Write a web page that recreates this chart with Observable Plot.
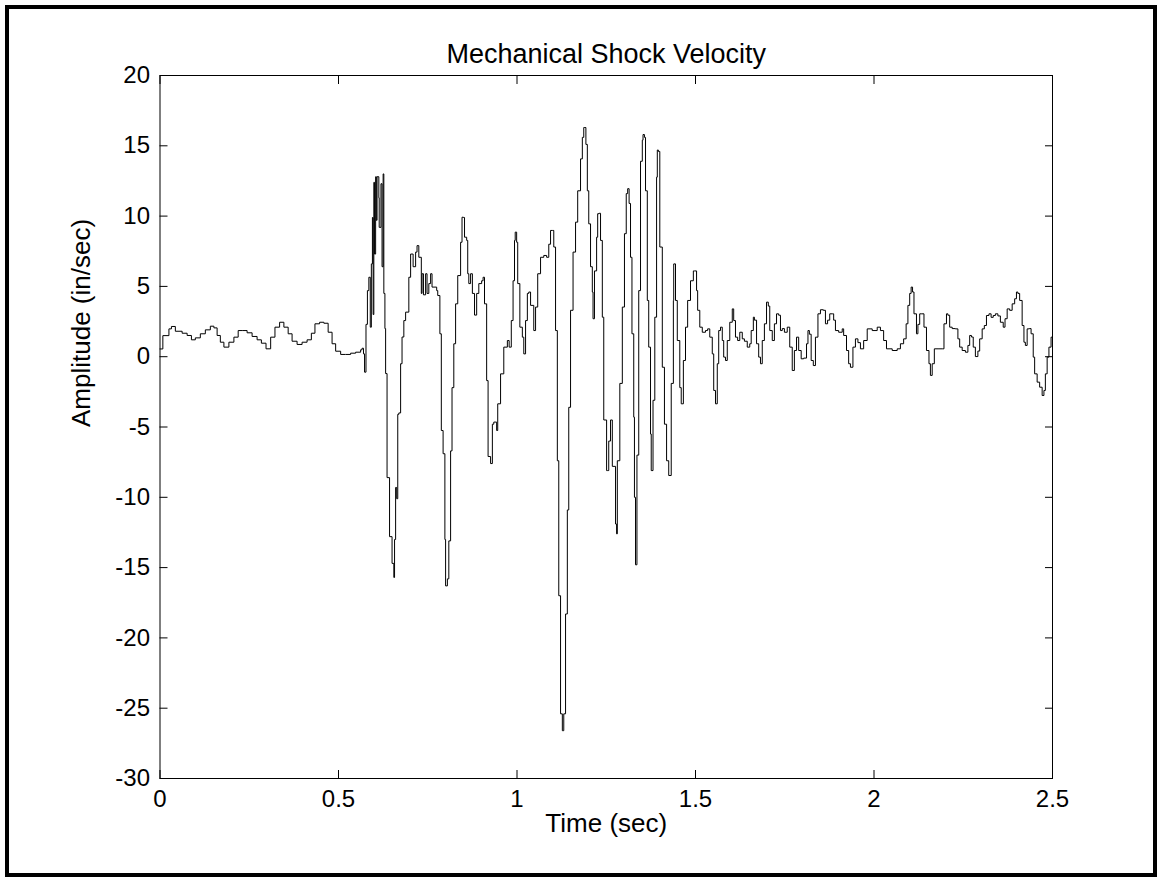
<!DOCTYPE html>
<html>
<head>
<meta charset="utf-8">
<script src="https://cdn.jsdelivr.net/npm/d3@7"></script>
<script src="https://cdn.jsdelivr.net/npm/@observablehq/plot@0.6"></script>
<style>
  html, body { margin: 0; padding: 0; background: #fff; }
  #wrap { position: relative; width: 1161px; height: 878px; overflow: hidden; }
  #border { position: absolute; left: 5px; top: 5px; width: 1152px; height: 872px; box-sizing: border-box; border: 4px solid #000; pointer-events: none; }
</style>
</head>
<body>
<div id="wrap"><div id="chart"></div><div id="border"></div></div>
<script>
const titleText = "Mechanical Shock Velocity";
const xLabel = "Time (sec)";
const yLabel = "Amplitude (in/sec)";
const xTicks = [0, 0.5, 1, 1.5, 2, 2.5];
const yTicks = [-30, -25, -20, -15, -10, -5, 0, 5, 10, 15, 20];

const time = [
0.000,0.008,0.025,0.032,0.043,0.062,0.076,0.088,0.099,0.113,0.127,0.141,0.151,0.160,0.169,0.179,0.193,0.207,0.219,0.232,
0.244,0.258,0.272,0.284,0.297,0.310,0.322,0.335,0.347,0.359,0.370,0.384,0.398,0.412,0.424,0.434,0.447,0.459,0.471,0.482,
0.492,0.506,0.520,0.534,0.548,0.562,0.566,0.570,0.573,0.577,0.581,0.585,0.589,0.592,0.595,0.597,0.599,0.601,0.604,0.606,
0.608,0.613,0.614,0.619,0.622,0.625,0.627,0.630,0.632,0.636,0.643,0.650,0.655,0.657,0.660,0.663,0.666,0.669,0.674,0.678,
0.683,0.688,0.697,0.702,0.706,0.709,0.716,0.720,0.725,0.732,0.734,0.738,0.744,0.748,0.753,0.758,0.762,0.775,0.778,0.784,
0.788,0.793,0.798,0.800,0.805,0.809,0.814,0.818,0.823,0.828,0.834,0.842,0.846,0.850,0.853,0.859,0.862,0.865,0.870,0.875,
0.881,0.887,0.893,0.901,0.905,0.909,0.915,0.919,0.926,0.931,0.935,0.943,0.946,0.954,0.963,0.973,0.978,0.984,0.989,0.993,
0.995,0.999,1.002,1.008,1.015,1.019,1.024,1.029,1.033,1.038,1.047,1.052,1.058,1.066,1.075,1.083,1.089,1.094,1.099,1.103,
1.108,1.113,1.117,1.122,1.127,1.131,1.136,1.141,1.145,1.150,1.157,1.164,1.170,1.178,1.183,1.187,1.190,1.193,1.197,1.201,
1.206,1.211,1.213,1.217,1.223,1.226,1.230,1.234,1.239,1.243,1.251,1.254,1.257,1.262,1.267,1.276,1.279,1.281,1.288,1.295,
1.301,1.306,1.310,1.314,1.318,1.322,1.327,1.329,1.332,1.336,1.341,1.346,1.351,1.353,1.357,1.360,1.365,1.369,1.374,1.376,
1.381,1.386,1.391,1.393,1.396,1.400,1.407,1.413,1.419,1.425,1.432,1.438,1.439,1.444,1.449,1.456,1.460,1.466,1.472,1.478,
1.486,1.494,1.497,1.503,1.506,1.512,1.519,1.528,1.534,1.540,1.547,1.551,1.556,1.561,1.565,1.570,1.575,1.579,1.584,1.589,
1.596,1.603,1.607,1.612,1.618,1.624,1.631,1.637,1.645,1.652,1.656,1.662,1.665,1.671,1.677,1.682,1.687,1.693,1.699,1.704,
1.708,1.715,1.721,1.727,1.733,1.738,1.743,1.749,1.757,1.764,1.771,1.777,1.783,1.789,1.796,1.803,1.811,1.815,1.819,1.824,
1.830,1.836,1.843,1.850,1.858,1.864,1.870,1.876,1.883,1.887,1.892,1.901,1.911,1.915,1.923,1.929,1.934,1.941,1.948,1.955,
1.962,1.971,1.981,1.995,2.009,2.018,2.027,2.035,2.051,2.065,2.074,2.083,2.090,2.095,2.100,2.104,2.108,2.112,2.119,2.123,
2.128,2.134,2.140,2.147,2.154,2.158,2.163,2.169,2.182,2.191,2.196,2.203,2.207,2.212,2.219,2.228,2.235,2.240,2.247,2.256,
2.263,2.268,2.273,2.278,2.284,2.291,2.296,2.303,2.309,2.315,2.322,2.328,2.334,2.340,2.347,2.354,2.362,2.367,2.373,2.380,
2.387,2.394,2.399,2.403,2.408,2.415,2.420,2.424,2.429,2.435,2.440,2.446,2.450,2.457,2.464,2.471,2.476,2.480,2.485,2.490,
2.496,2.500
];

const amplitude = [
0.55,1.5,1.98,2.15,1.81,1.67,1.51,1.2,1.34,1.63,1.91,2.17,2.05,1.51,1.03,0.68,1.03,1.39,1.86,1.86,
1.70,1.44,1.2,0.96,0.56,1.39,2.1,2.45,2.1,1.63,1.1,0.87,1.03,1.2,1.67,2.34,2.45,2.38,1.74,0.92,
0.39,0.16,0.16,0.25,0.32,0.49,0.6,0.2,-1.1,2.3,4.7,5.65,2.1,6.6,9.9,3.0,12.4,7.3,12.8,9.7,
12.8,11.3,9.2,12.3,6.4,13.0,4.5,2.0,-1.2,-8.6,-12.8,-14.7,-15.7,-13.0,-9.3,-10.1,-4.1,-4.0,-0.5,1.4,
2.57,3.17,5.65,7.3,7.3,6.4,7.44,7.9,7.07,4.5,5.9,4.4,5.9,4.5,5.2,5.9,4.95,4.7,4.35,1.63,
-5.25,-6.9,-13.0,-16.3,-15.8,-13.1,-6.7,-2.2,0.92,3.76,5.77,8.14,9.92,9.9,8.5,8.27,5.9,5.2,5.9,4.5,
2.96,4.5,5.2,5.4,5.65,3.76,-1.7,-7.1,-7.6,-4.8,-4.65,-5.25,-3.35,-1.22,0.68,1.15,0.68,2.57,5.4,8.27,
8.86,8.14,5.2,2.1,1.39,0.2,2.57,4.5,4.6,3.65,1.86,3.53,5.9,7.07,7.2,7.07,8.0,8.98,8.98,7.8,
1.86,-7.4,-17.0,-25.4,-26.6,-25.4,-18.3,-10.9,-3.6,3.3,7.44,9.57,11.8,14.07,15.6,16.3,16.3,15.1,11.8,9.45,
6.4,4.6,2.7,6.1,8.5,10.17,10.2,8.27,2.81,-4.5,-8.1,-8.1,-6.0,-4.5,-7.8,-11.9,-12.6,-7.4,-1.9,3.53,
8.75,11.6,11.95,10.9,7.07,1.63,-4.3,-10,-14.8,-7,4.7,13.9,15.4,15.8,15.6,11.8,4.0,0.68,-5.5,-8.1,
-3.1,2.81,12.77,14.7,14.6,7.8,-0.75,-4.8,-7.4,-8.45,-1.9,4.0,6.6,4.0,1.15,-2.2,-3.35,-0.27,2.1,4.0,
5.4,6.1,6.1,4.7,3.3,2.1,1.74,1.86,1.98,1.39,0.2,-2.4,-3.35,-0.5,1.86,2.1,1.15,-0.03,-0.27,1.15,
2.45,3.4,2.57,1.39,1.15,1.74,1.27,1.1,0.68,0.92,1.86,2.81,2.6,0.92,-0.03,-0.5,1.15,2.34,3.88,3.6,
1.86,1.15,2.34,3.05,2.95,1.86,2.0,1.74,2.1,0.68,-0.98,0.44,1.39,0.44,-0.15,-0.1,0.92,1.86,1.6,-0.27,
-0.63,1.39,3.05,3.34,3.3,2.34,2.6,3.05,3.05,2.6,1.86,1.74,1.98,1.51,0.44,-0.5,-0.75,0.68,1.27,1.0,
0.56,1.15,1.98,1.86,2.1,1.86,1.15,0.56,0.44,0.56,0.92,1.27,2.34,3.65,4.5,4.95,4.6,3.05,1.63,2.3,
3.05,3.05,2.1,0.44,-0.5,-1.33,-0.5,0.56,0.56,0.56,2.34,3.05,2.95,2.1,2.0,1.98,1.27,0.68,0.44,0.32,
0.8,1.51,1.4,0.68,0.01,0.4,1.27,1.98,2.22,2.93,3.05,2.8,2.93,3.05,2.9,2.45,2.1,2.7,3.4,3.3,
3.76,4.12,4.6,4.5,4.0,2.22,1.03,0.8,1.98,2.0,1.63,-0.03,-1.22,-1.81,-2.17,-2.76,-2.4,-1.22,-0.03,0.68,
1.39,1.51
];

const data = time.map((t, i) => ({t, v: amplitude[i]}));
const fmt = d => String(d);

const chart = Plot.plot({
  width: 1161,
  height: 878,
  marginLeft: 159.5,
  marginRight: 109,
  marginTop: 75,
  marginBottom: 100,
  style: {fontFamily: "'Liberation Sans', Arial, sans-serif", fontSize: "24px", color: "#000", background: "#fff", overflow: "visible"},
  x: {domain: [0, 2.5]},
  y: {domain: [-30, 20]},
  marks: [
    Plot.frame({stroke: "#000", strokeWidth: 1}),
    Plot.line(data, {x: "t", y: "v", curve: "step-after", stroke: "#000", strokeWidth: 1}),
    Plot.axisX(xTicks, {anchor: "bottom", tickSize: -8, tickPadding: 19, tickFormat: fmt, label: null, fontSize: 24}),
    Plot.axisX(xTicks, {anchor: "top", tickSize: -8, tickFormat: () => "", label: null}),
    Plot.axisY(yTicks, {anchor: "left", tickSize: -8, tickPadding: 18, tickFormat: fmt, label: null, fontSize: 24}),
    Plot.axisY(yTicks, {anchor: "right", tickSize: -8, tickFormat: () => "", label: null}),
    Plot.text([titleText], {frameAnchor: "top", dy: -32, fontSize: 27}),
    Plot.text([xLabel], {frameAnchor: "bottom", dy: 53, fontSize: 26}),
    Plot.text([yLabel], {frameAnchor: "left", dx: -78, rotate: -90, fontSize: 26})
  ]
});
document.getElementById("chart").appendChild(chart);
</script>
</body>
</html>
